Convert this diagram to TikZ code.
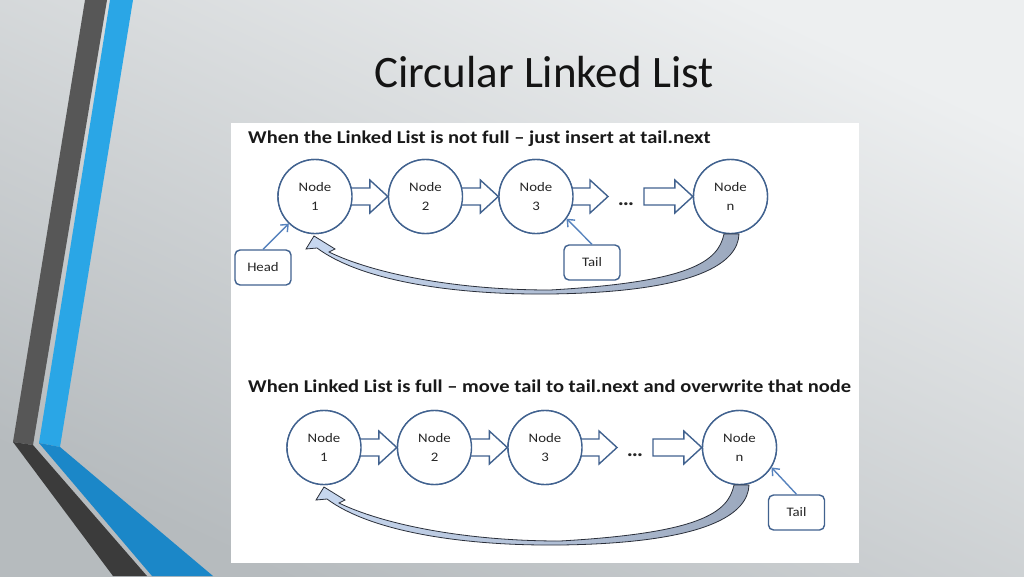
\documentclass[tikz,border=0pt]{standalone}
\usepackage{fontspec}
\setmainfont{Carlito}
\newfontfamily\widefont[FakeStretch=1.14]{Carlito}
\usetikzlibrary{calc,arrows.meta}
\definecolor{bgA}{HTML}{EDEFF0}
\definecolor{bgB}{HTML}{B6BBBE}
\definecolor{darkA}{HTML}{575757}
\definecolor{darkB}{HTML}{3B3B3B}
\definecolor{blueA}{HTML}{2AA6E6}
\definecolor{blueB}{HTML}{1B87C8}
\definecolor{nodeline}{HTML}{41628F}
\definecolor{ptrline}{HTML}{5682BD}
\definecolor{retA}{HTML}{C8D8F0}
\definecolor{retB}{HTML}{9CA9BE}
\definecolor{retline}{HTML}{2A2F3A}
\tikzset{
  lnode/.style={circle,draw=nodeline,line width=1.4pt,fill=white,minimum size=74pt,inner sep=0pt,
    align=center,font=\widefont\fontsize{13}{19}\selectfont,text=black!85},
  blkarrow/.style={draw=nodeline,line width=1.4pt,fill=white,line join=miter},
  ptrbox/.style={draw=nodeline,line width=1.4pt,fill=white,rounded corners=5pt,minimum width=56pt,
    minimum height=35pt,inner sep=0pt,font=\widefont\fontsize{13}{15}\selectfont,text=black!85},
  ptr/.style={draw=ptrline,line width=1.4pt,-{Straight Barb[length=6pt,width=10pt]}},
  retarrow/.style={draw=retline,line width=0.8pt,left color=retA,right color=retB,line join=miter},
  header/.style={anchor=base west,inner sep=0pt,font=\widefont\fontsize{18}{20}\bfseries\selectfont,text=black!90},
  dotsnode/.style={inner sep=0pt,font=\widefont\fontsize{20}{22}\bfseries\selectfont,text=black!85}
}
\newcommand{\blkarr}[2]{\draw[blkarrow] let \p1=(#1), \p2=(#2) in
  (\x1-3pt,\y1+8.5pt) -- (\x2-18pt,\y1+8.5pt) -- (\x2-18pt,\y1+16.5pt) -- (\x2,\y1)
  -- (\x2-18pt,\y1-16.5pt) -- (\x2-18pt,\y1-8.5pt) -- (\x1-3pt,\y1-8.5pt) -- cycle;}
\newcommand{\retpath}{%
  \draw[retarrow] (724,234) .. controls (718,262) and (690,282) .. (550,290)
    .. controls (450,290) and (370,272) .. (329,252)
    -- (335,249) -- (314,236) -- (306,249) -- (317,248)
    .. controls (360,280) and (450,295) .. (550,294)
    .. controls (700,292) and (738,262) .. (739,234) -- cycle;}
\begin{document}
\begin{tikzpicture}[x=1pt,y=-1pt]
\useasboundingbox (0,0) rectangle (1024,576);
% background
\shade[top color=bgA,bottom color=bgB,shading angle=-25] (0,0) rectangle (1024,576);
% left decoration
\fill[darkA] (85,0) -- (107,0) -- (33,445) -- (13,442) -- cycle;
\fill[darkB] (13,442) -- (33,445) -- (147,576) -- (113,576) -- cycle;
\fill[blueA] (110,0) -- (133,0) -- (60,447) -- (39,443) -- cycle;
\fill[blueB] (39,443) -- (60,447) -- (213,576) -- (152,576) -- cycle;
% title
\node[anchor=base,inner sep=0pt,font=\fontsize{45}{50}\selectfont,text=black!92] (title) at (544,87) {Circular Linked List};
% panel
\fill[white] (231,123) rectangle (859,563);
% headers
\node[header] (h1) at (248,143) {When the Linked List is not full – just insert at tail.next};
\node[header] (h2) at (248,392) {When Linked List is full – move tail to tail.next and overwrite that node};
% top diagram
\coordinate (ta) at (608,196.5);
\coordinate (tb) at (647,196.5);
\path (315,196.5) node[lnode] (a1) {} (425.5,196.5) node[lnode] (a2) {}
      (536,196.5) node[lnode] (a3) {} (730.5,196.5) node[lnode] (an) {};
\blkarr{a1.east}{a2.west}
\blkarr{a2.east}{a3.west}
\blkarr{a3.east}{ta}
\blkarr{tb}{an.west}
\node[lnode] at (a1) {Node\\1};
\node[lnode] at (a2) {Node\\2};
\node[lnode] at (a3) {Node\\3};
\node[lnode] at (an) {Node\\n};
\node[dotsnode] (adots) at (626,204) {…};
\retpath
\node[ptrbox] (head) at (263,267.5) {Head};
\node[ptrbox] (tail1) at (592,262.5) {Tail};
\draw[ptr] (head.north) -- (a1.226);
\draw[ptr] (tail1.north) -- (a3.-36);
% bottom diagram
\begin{scope}[shift={(9,251)}]
\coordinate (ua) at (608,196.5);
\coordinate (ub) at (647,196.5);
\path (315,196.5) node[lnode] (b1) {} (425.5,196.5) node[lnode] (b2) {}
      (536,196.5) node[lnode] (b3) {} (730.5,196.5) node[lnode] (bn) {};
\blkarr{b1.east}{b2.west}
\blkarr{b2.east}{b3.west}
\blkarr{b3.east}{ua}
\blkarr{ub}{bn.west}
\node[lnode] at (b1) {Node\\1};
\node[lnode] at (b2) {Node\\2};
\node[lnode] at (b3) {Node\\3};
\node[lnode] at (bn) {Node\\n};
\node[dotsnode] (bdots) at (626,204) {…};
\end{scope}
\begin{scope}[shift={(10,251)}]
\retpath
\end{scope}
\node[ptrbox] (tail2) at (796.5,512.5) {Tail};
\draw[ptr] (tail2.north) -- (bn.-32);
\end{tikzpicture}
\end{document}
